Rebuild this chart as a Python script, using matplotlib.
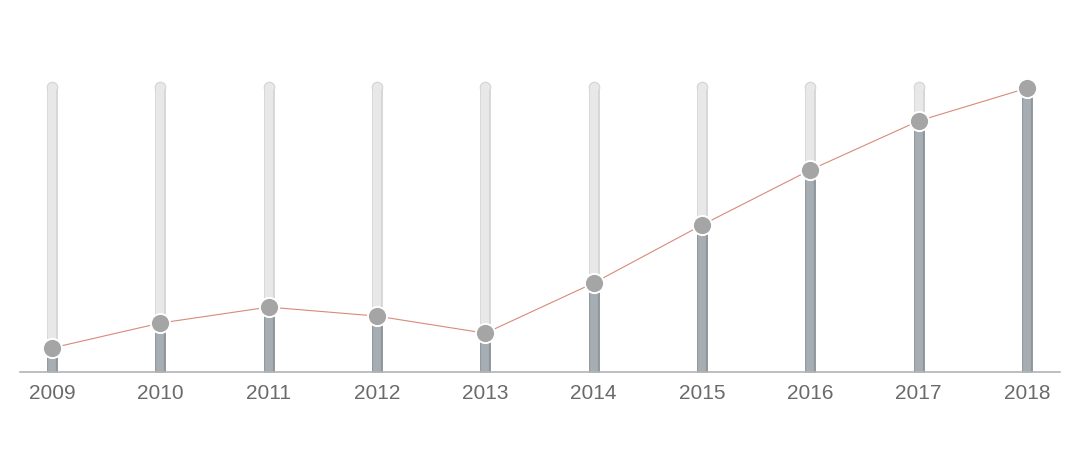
import matplotlib.pyplot as plt

years = ["2009", "2010", "2011", "2012", "2013", "2014", "2015", "2016", "2017", "2018"]
values = [8.3, 16.9, 22.4, 19.3, 13.4, 30.7, 50.7, 69.7, 86.6, 97.9]
track_max = 100


def main():
    fig = plt.figure(figsize=(10.8, 4.55), dpi=100)
    ax = fig.add_axes([0, 0, 1, 1])
    ax.set_xlim(-0.48, 9.49)
    ax.set_ylim(-28.6, 128.3)
    ax.axis("off")

    x = list(range(len(years)))
    cap = 1.6  # round cap radius in data units (about 4.5 px)

    # light background tracks
    ax.vlines(x, 0, track_max - cap, colors="#d6d6d6", linewidth=7.8, zorder=1)
    ax.vlines(x, 0, track_max - cap, colors="#e8e8e8", linewidth=5.8, zorder=1.1)
    ax.plot(x, [track_max - cap] * len(x), "o", ms=7.5, color="#e8e8e8",
            mec="#d6d6d6", mew=0.9, zorder=1.05)

    # filled bars
    ax.vlines(x, 0, values, colors="#8e969b", linewidth=7.8, zorder=2)
    ax.vlines(x, 0, values, colors="#a7aeb3", linewidth=5.6, zorder=2.1)

    # trend line and dots
    ax.plot(x, values, color="#d88a7a", linewidth=0.8, zorder=3)
    ax.plot(x, values, "o", ms=13.8, color="#a5a5a5", mec="white", mew=1.4, zorder=4)

    # baseline
    ax.axhline(0, xmin=20 / 1080, xmax=1060 / 1080, color="#b3b3b3", linewidth=1.2, zorder=5)

    for xi, label in zip(x, years):
        ax.text(xi, -7.3, label, ha="center", va="center", fontsize=15,
                color="#6a6a6a", family="Liberation Sans")

    fig.savefig("out.png", dpi=100, facecolor="white")


if __name__ == "__main__":
    main()
